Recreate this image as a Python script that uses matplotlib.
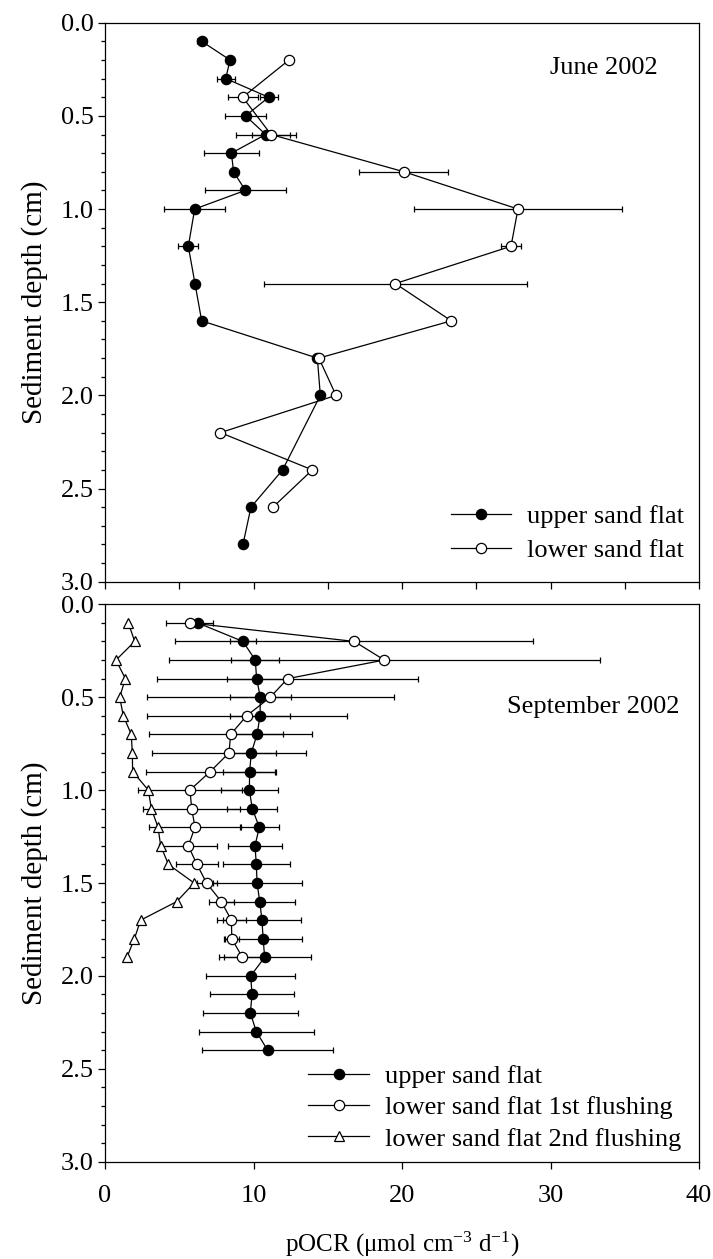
import matplotlib
matplotlib.use("Agg")
import matplotlib.pyplot as plt
from matplotlib.ticker import MultipleLocator, FormatStrFormatter
from matplotlib.lines import Line2D

plt.rcParams['font.family'] = ['Liberation Serif', 'DejaVu Serif']
plt.rcParams['mathtext.fontset'] = 'custom'
plt.rcParams['mathtext.rm'] = 'Liberation Serif'
plt.rcParams['mathtext.default'] = 'regular'

# ---------------- June 2002 ----------------
june_upper_depth = [0.1, 0.2, 0.3, 0.4, 0.5, 0.6, 0.7, 0.8, 0.9, 1.0, 1.2, 1.4, 1.6, 1.8, 2.0, 2.4, 2.6, 2.8]
june_upper_val = [6.51, 8.42, 8.13, 11.02, 9.47, 10.82, 8.51, 8.66, 9.45, 6.04, 5.61, 6.06, 6.51, 14.3, 14.5, 11.96, 9.83, 9.29]
june_upper_err = [0.3, 0.0, 0.6, 0.6, 1.4, 2.02, 1.83, 0.0, 2.73, 2.05, 0.68, 0.0, 0.0, 0.0, 0.0, 0.0, 0.0, 0.0]

june_lower_depth = [0.2, 0.4, 0.6, 0.8, 1.0, 1.2, 1.4, 1.6, 1.8, 2.0, 2.2, 2.4, 2.6]
june_lower_val = [12.39, 9.27, 11.18, 20.13, 27.81, 27.34, 19.55, 23.32, 14.4, 15.56, 7.77, 13.96, 11.31]
june_lower_err = [0.3, 1.0, 1.3, 3.0, 6.98, 0.64, 8.87, 0.0, 0.0, 0.0, 0.0, 0.0, 0.0]

# ---------------- September 2002 ----------------
sep_upper_depth = [0.1, 0.2, 0.3, 0.4, 0.5, 0.6, 0.7, 0.8, 0.9, 1.0, 1.1, 1.2, 1.3, 1.4, 1.5, 1.6,
                   1.7, 1.8, 1.9, 2.0, 2.1, 2.2, 2.3, 2.4]
sep_upper_val = [6.24, 9.29, 10.12, 10.21, 10.46, 10.44, 10.24, 9.85, 9.74, 9.72, 9.92, 10.39, 10.10,
                 10.19, 10.24, 10.42, 10.57, 10.65, 10.75, 9.81, 9.90, 9.79, 10.19, 10.95]
sep_upper_err = [0.0, 0.85, 1.62, 1.97, 2.06, 2.0, 1.75, 1.66, 1.8, 1.91, 1.69, 1.3, 1.8, 2.24, 3.0,
                 2.36, 2.63, 2.63, 3.1, 2.99, 2.84, 3.19, 3.89, 4.4]

sep_first_depth = [0.1, 0.2, 0.3, 0.4, 0.5, 0.6, 0.7, 0.8, 0.9, 1.0, 1.1, 1.2, 1.3, 1.4, 1.5, 1.6, 1.7, 1.8, 1.9]
sep_first_val = [5.72, 16.79, 18.81, 12.30, 11.13, 9.54, 8.46, 8.35, 7.09, 5.72, 5.84, 6.06, 5.61,
                 6.19, 6.84, 7.83, 8.51, 8.54, 9.25]
sep_first_err = [1.58, 12.05, 14.49, 8.8, 8.3, 6.74, 5.47, 5.2, 4.33, 3.48, 3.28, 3.08, 1.95,
                 1.39, 0.67, 0.83, 1.0, 0.47, 1.23]

sep_second_depth = [0.1, 0.2, 0.3, 0.4, 0.5, 0.6, 0.7, 0.8, 0.9, 1.0, 1.1, 1.2, 1.3, 1.4, 1.5, 1.6, 1.7, 1.8, 1.9]
sep_second_val = [1.57, 2.0, 0.74, 1.37, 0.99, 1.23, 1.77, 1.84, 1.86, 2.92, 3.12, 3.57, 3.75,
                  4.27, 6.0, 4.83, 2.4, 1.98, 1.48]

panel_titles = ["June 2002", "September 2002"]
june_labels = ["upper sand flat", "lower sand flat"]
sep_labels = ["upper sand flat", "lower sand flat 1st flushing", "lower sand flat 2nd flushing"]
xlabel = "pOCR (\u03bcmol cm$^{-3}$ d$^{-1}$)"
ylabel = "Sediment depth (cm)"

W, H = 713, 1259
fig = plt.figure(figsize=(W / 100, H / 100), dpi=100)
left = 105 / W
width = (699 - 105) / W
ax1 = fig.add_axes([left, 1 - 581.7 / H, width, (581.7 - 22.7) / H])
ax2 = fig.add_axes([left, 1 - 1161.7 / H, width, (1161.7 - 604.3) / H])

FS = 19
LW = 0.9
MS = 7.4
common = dict(color='black', lw=LW, ms=MS, mec='black', mew=LW,
              elinewidth=LW, capsize=2.3, capthick=LW, ecolor='black')

ax1.errorbar(june_upper_val, june_upper_depth, xerr=june_upper_err, fmt='-o', mfc='black', zorder=3, **common)
ax1.errorbar(june_lower_val, june_lower_depth, xerr=june_lower_err, fmt='-o', mfc='white', zorder=4, **common)

ax2.errorbar(sep_upper_val, sep_upper_depth, xerr=sep_upper_err, fmt='-o', mfc='black', zorder=3, **common)
ax2.errorbar(sep_first_val, sep_first_depth, xerr=sep_first_err, fmt='-o', mfc='white', zorder=4, **common)
ax2.plot(sep_second_val, sep_second_depth, '-^', color='black', lw=LW, ms=MS + 0.5, mfc='white',
         mec='black', mew=LW, zorder=5)

for ax, step in ((ax1, 5), (ax2, 10)):
    ax.set_xlim(0, 40)
    ax.set_ylim(3.0, 0.0)
    ax.yaxis.set_major_locator(MultipleLocator(0.5))
    ax.yaxis.set_minor_locator(MultipleLocator(0.1))
    ax.yaxis.set_major_formatter(FormatStrFormatter('%.1f'))
    ax.xaxis.set_major_locator(MultipleLocator(step))
    ax.tick_params(axis='both', which='major', direction='out', length=5, width=LW, labelsize=FS)
    ax.tick_params(axis='y', which='major', pad=3)
    ax.tick_params(axis='x', which='major', pad=12)
    ax.tick_params(axis='y', which='minor', direction='out', length=3, width=LW)
    for s in ax.spines.values():
        s.set_linewidth(LW)
    ax.set_ylabel(ylabel, fontsize=21, labelpad=9)

ax1.tick_params(axis='x', labelbottom=False)
ax2.set_xlabel(xlabel, fontsize=18, labelpad=16)

ax1.text(29.97, 0.245, panel_titles[0], ha='left', va='center', fontsize=FS)
ax2.text(27.07, 0.555, panel_titles[1], ha='left', va='center', fontsize=FS)


def handles(kinds):
    hs = []
    for k in kinds:
        if k == 'f':
            hs.append(Line2D([], [], color='black', lw=LW, marker='o', ms=MS, mfc='black', mec='black', mew=LW))
        elif k == 'o':
            hs.append(Line2D([], [], color='black', lw=LW, marker='o', ms=MS, mfc='white', mec='black', mew=LW))
        else:
            hs.append(Line2D([], [], color='black', lw=LW, marker='^', ms=MS, mfc='white', mec='black', mew=LW))
    return hs


ax1.legend(handles(['f', 'o']), june_labels, loc='lower right', bbox_to_anchor=(0.975, 0.035),
           frameon=False, fontsize=FS, handlelength=2.3, handletextpad=0.6, labelspacing=0.4,
           borderpad=0, borderaxespad=0)
ax2.legend(handles(['f', 'o', 't']), sep_labels, loc='lower right', bbox_to_anchor=(0.97, 0.02),
           frameon=False, fontsize=FS, handlelength=2.3, handletextpad=0.6, labelspacing=0.3,
           borderpad=0, borderaxespad=0)

fig.savefig('out.png', dpi=100)
